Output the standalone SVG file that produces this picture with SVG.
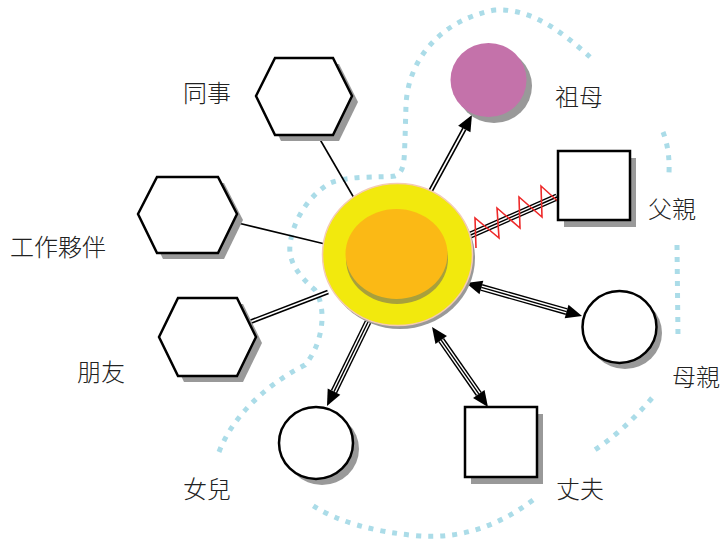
<svg xmlns="http://www.w3.org/2000/svg" width="725" height="545" viewBox="0 0 725 545">
<defs>
<style>
.bg{fill:#fff}
.dash{fill:none;stroke:#ABDCE8;stroke-width:5;stroke-dasharray:5 7}
.shape{fill:#fff;stroke:#000;stroke-width:2.5;stroke-linejoin:miter}
.shadow{fill:#999}
.lbl{font-family:"Noto Sans CJK TC","Noto Sans CJK SC",sans-serif;font-size:24px;font-weight:300;fill:#222}
.thin{fill:none;stroke:#000;stroke-width:1.6}
.d1{fill:none;stroke:#000;stroke-width:4.8}
.d2{fill:none;stroke:#fff;stroke-width:1.6}
.t1{fill:none;stroke:#000;stroke-width:7}
.t2{fill:none;stroke:#fff;stroke-width:4.2}
.t3{fill:none;stroke:#000;stroke-width:1.4}
</style>
<marker id="ah" markerUnits="userSpaceOnUse" viewBox="0 -8 17 16" refX="0" refY="0" markerWidth="17" markerHeight="16" orient="auto-start-reverse" overflow="visible">
<path d="M0,-7 L16,0 L0,7 z" fill="#000"/>
</marker>
</defs>
<rect class="bg" x="0" y="0" width="725" height="545"/>

<g id="dashed-boundary">
<path class="dash" d="M219,452 C235,410 275,380 305,365 C322,345 328,310 315,290 C300,277 288,262 290,245 C292,225 305,198 330,183 C350,175 380,178 395,176 C405,172 404,160 405,140 L406,105 C408,60 440,20 495,10 C530,8 560,30 590,57"/>
<path class="dash" d="M663,132 Q670,150 669,173"/>
<path class="dash" d="M677,245 L678,337"/>
<path class="dash" d="M652,398 Q622,433 590,453"/>
<path class="dash" d="M533,500 Q480,540 420,536 Q350,530 312,505"/>
</g>

<g id="connectors">
<line class="thin" x1="318" y1="136" x2="354" y2="198"/>
<line class="thin" x1="234" y1="222" x2="325" y2="244"/>
<path class="d1" d="M250,322 L328,292"/>
<path class="d2" d="M250,322 L328,292"/>
<path class="d1" d="M430,192 L464.3,129"/>
<path class="d2" d="M430,192 L464.3,129" marker-end="url(#ah)"/>
<path class="t1" d="M368,322 L334,391.6"/>
<path class="t2" d="M368,322 L334,391.6"/>
<path class="t3" d="M368,322 L334,391.6" marker-end="url(#ah)"/>
<path class="t1" d="M481.4,287.4 L566.6,311.6"/>
<path class="t2" d="M481.4,287.4 L566.6,311.6"/>
<path class="t3" d="M481.4,287.4 L566.6,311.6" marker-start="url(#ah)" marker-end="url(#ah)"/>
<path class="t1" d="M441.2,340.1 L478.8,393.9"/>
<path class="t2" d="M441.2,340.1 L478.8,393.9"/>
<path class="t3" d="M441.2,340.1 L478.8,393.9" marker-start="url(#ah)" marker-end="url(#ah)"/>
<path class="t1" d="M466,237 L557,197"/>
<path class="t2" d="M466,237 L557,197"/>
<path class="t3" d="M466,237 L557,197"/>
<polyline fill="none" stroke="#EE2A2A" stroke-width="1.6" points="476,248 475,218 499,238 497,208 520,228 519,197 542,217 541,186 563,206 562,176"/>
</g>

<g id="center">
<ellipse class="shadow" cx="400" cy="258" rx="75" ry="71"/>
<ellipse cx="397.5" cy="254.5" rx="75" ry="71" fill="#F2E90D" stroke="#F4CBB3" stroke-width="1.5"/>
<ellipse cx="397" cy="259" rx="51" ry="45" fill="#A8A03C"/>
<ellipse cx="396.5" cy="254" rx="51" ry="45" fill="#FBB915"/>
</g>

<g id="node-tongshi">
<polygon class="shadow" points="262,102 281,64 339,64 358,102 339,141 281,141"/>
<polygon class="shape" points="256,96 275,58 333,58 352,96 333,135 275,135"/>
<text class="lbl" x="183" y="102">同事</text>
</g>

<g id="node-huoban">
<polygon class="shadow" points="144,220 163,183 224,183 243,220 224,259 163,259"/>
<polygon class="shape" points="138,214 157,177 218,177 237,214 218,253 157,253"/>
<text class="lbl" x="10" y="256">工作夥伴</text>
</g>

<g id="node-pengyou">
<polygon class="shadow" points="165,343 184,304 243,304 262,343 243,382 184,382"/>
<polygon class="shape" points="159,337 178,298 237,298 256,337 237,376 178,376"/>
<text class="lbl" x="77" y="381">朋友</text>
</g>

<g id="node-zumu">
<ellipse class="shadow" cx="494" cy="86" rx="38" ry="37"/>
<ellipse cx="488.5" cy="80" rx="38" ry="37" fill="#C472AA"/>
<text class="lbl" x="555" y="106">祖母</text>
</g>

<g id="node-fuqin">
<rect class="shadow" x="564" y="158" width="72" height="69"/>
<rect class="shape" x="558" y="151" width="72" height="69"/>
<text class="lbl" x="648" y="218">父親</text>
</g>

<g id="node-muqin">
<ellipse class="shadow" cx="625" cy="333" rx="37" ry="36"/>
<ellipse class="shape" cx="619.5" cy="327" rx="37" ry="36"/>
<text class="lbl" x="672" y="386">母親</text>
</g>

<g id="node-zhangfu">
<rect class="shadow" x="471" y="414" width="72" height="70"/>
<rect class="shape" x="465" y="407" width="72" height="70"/>
<text class="lbl" x="556" y="498">丈夫</text>
</g>

<g id="node-nuer">
<ellipse class="shadow" cx="322" cy="449" rx="37" ry="36"/>
<ellipse class="shape" cx="316" cy="443" rx="37" ry="36"/>
<text class="lbl" x="183" y="498">女兒</text>
</g>
</svg>
